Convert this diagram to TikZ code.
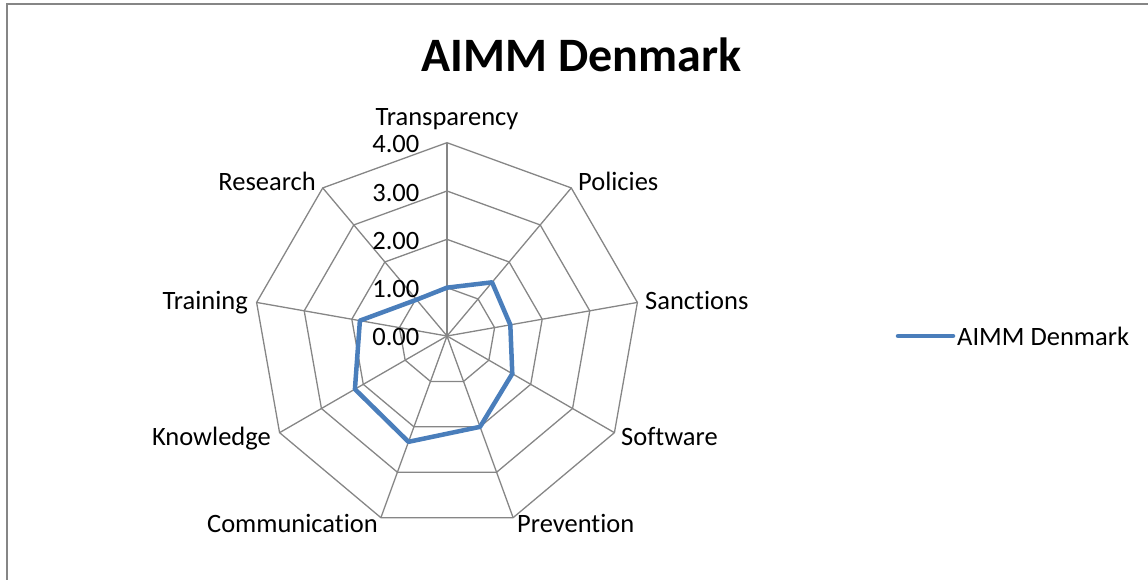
\documentclass[tikz,border=0pt]{standalone}
\usepackage{fontspec}
\setmainfont{Carlito}[Ligatures={NoCommon}]
\definecolor{gridc}{HTML}{868686}
\definecolor{datac}{HTML}{4A7EBB}
\begin{document}
\begin{tikzpicture}[x=1pt,y=-1pt,
  gridline/.style={draw=gridc,line width=1.3pt},
  dataline/.style={draw=datac,line width=4.5pt,line join=round},
  lbl/.style={font=\fontsize{26.5}{30}\selectfont,inner sep=0pt},
  ttl/.style={font=\fontsize{48}{56}\selectfont\bfseries,inner sep=0pt}]
\useasboundingbox (0,0) rectangle (1148,580);
\draw[gridline] (7,590) -- (7,4) -- (1160,4);
\node[ttl,anchor=base] (title) at (581.5,72) {AIMM Denmark};
\begin{scope}[shift={(447,336)}]
  \def\U{48.33}
  \coordinate (O) at (0,0);
  \foreach \k in {1,...,4}
    \draw[gridline] (-90:\k*\U) -- (-50:\k*\U) -- (-10:\k*\U) -- (30:\k*\U) -- (70:\k*\U) -- (110:\k*\U) -- (150:\k*\U) -- (190:\k*\U) -- (230:\k*\U) -- cycle;
  \foreach \a [count=\i] in {-90,-50,-10,30,70,110,150,190,230} {
    \coordinate (v\i) at (\a:4*\U);
    \draw[gridline] (O) -- (v\i);
  }
  \foreach \a/\v [count=\i] in {-90/1.0,-50/1.45,-10/1.33,30/1.56,70/2.0,110/2.33,150/2.2,190/1.83,230/0.98}
    \coordinate (d\i) at (\a:\v*\U);
  \draw[dataline] (d1) -- (d2) -- (d3) -- (d4) -- (d5) -- (d6) -- (d7) -- (d8) -- (d9) -- cycle;
\end{scope}
\foreach \k in {0,...,4}
  \node[lbl,anchor=east] (t\k) at (419.5,337.5-\k*48.33) {\k.00};
\node[lbl,anchor=base] (lTransparency) at (447,126) {Transparency};
\node[lbl,anchor=base west] (lPolicies) at (578,190) {Policies};
\node[lbl,anchor=base west] (lSanctions) at (645,309) {Sanctions};
\node[lbl,anchor=base west] (lSoftware) at (621,445) {Software};
\node[lbl,anchor=base west] (lPrevention) at (517,532) {Prevention};
\node[lbl,anchor=base east] (lCommunication) at (378,532) {Communication};
\node[lbl,anchor=base east] (lKnowledge) at (271,445) {Knowledge};
\node[lbl,anchor=base east] (lTraining) at (248,309) {Training};
\node[lbl,anchor=base east] (lResearch) at (316,190) {Research};
\coordinate (legA) at (898,336);
\coordinate (legB) at (953,336);
\draw[dataline,line cap=round] (legA) -- (legB);
\node[lbl,anchor=base west] (legT) at (957,345) {AIMM Denmark};
\end{tikzpicture}
\end{document}
